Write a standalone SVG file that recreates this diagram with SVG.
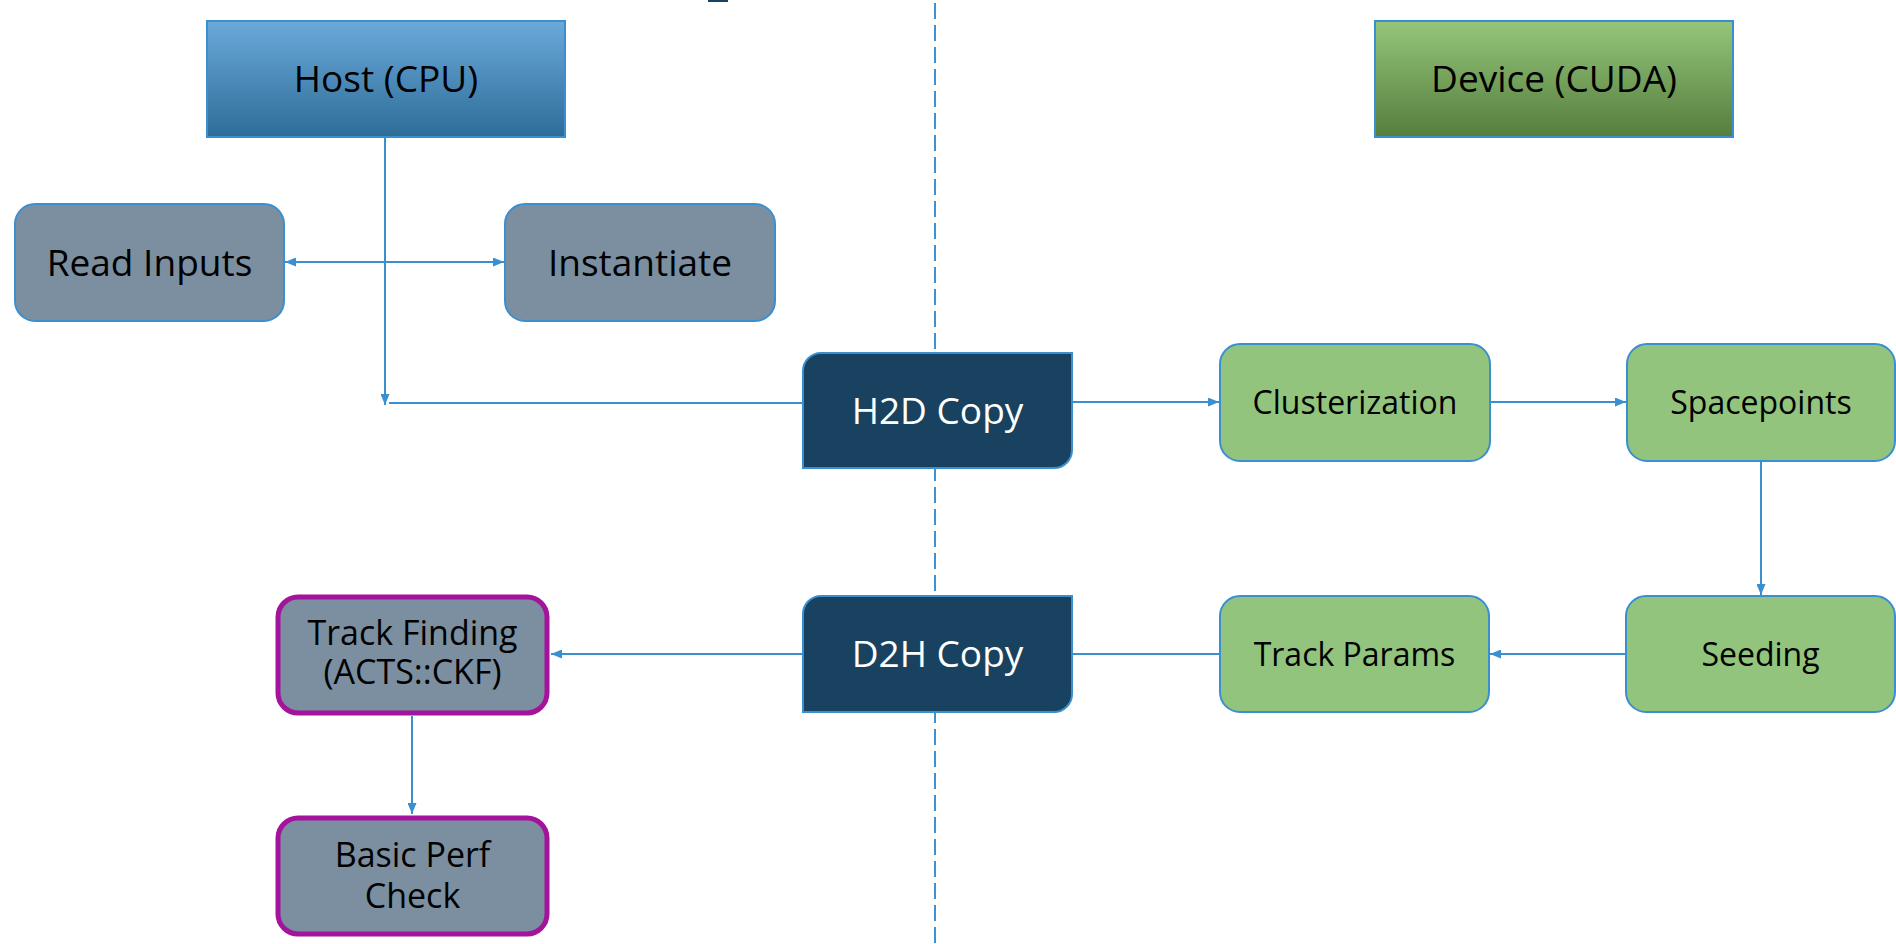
<svg xmlns="http://www.w3.org/2000/svg" width="1896" height="944" viewBox="0 0 1896 944">
<defs>
<linearGradient id="gHost" x1="0" y1="0" x2="0" y2="1">
<stop offset="0" stop-color="#6AAADA"/>
<stop offset="1" stop-color="#2E6C98"/>
</linearGradient>
<linearGradient id="gDev" x1="0" y1="0" x2="0" y2="1">
<stop offset="0" stop-color="#94C67A"/>
<stop offset="1" stop-color="#567D3D"/>
</linearGradient>
<marker id="arr" markerUnits="userSpaceOnUse" markerWidth="11" markerHeight="9" refX="11" refY="4.5" orient="auto-start-reverse">
<path d="M0,0 L11,4.5 L0,9 z" fill="#3A8FD0"/>
</marker>
<style>
.t{font-family:"Open Sans","Noto Sans","Liberation Sans",sans-serif;text-anchor:middle;fill:#000}
.w{fill:#fff}
.s37{font-size:37px}
.s32{font-size:32px}
.s34{font-size:34px}
.head{stroke:#3A8FD0;stroke-width:2}
.gray{fill:#7B8FA0;stroke:#3A8FD0;stroke-width:2}
.green{fill:#92C47D;stroke:#3A8FD0;stroke-width:2}
.navy{fill:#18425F;stroke:#3A8FD0;stroke-width:2}
.purple{fill:#7B8FA0;stroke:#A3139B;stroke-width:5}
.c{fill:none;stroke:#3A8FD0;stroke-width:2}
</style>
</defs>
<rect width="1896" height="944" fill="#fff"/>
<rect x="708" y="0" width="20" height="2" fill="#18425F"/>
<line x1="935" y1="3" x2="935" y2="944" stroke="#3A93D5" stroke-width="2" stroke-dasharray="16 6"/>

<g id="connectors">
<path class="c" d="M385,137 V405" marker-end="url(#arr)"/>
<path class="c" d="M389,403 H803"/>
<path class="c" d="M285,262 H504" marker-start="url(#arr)" marker-end="url(#arr)"/>
<path class="c" d="M1072,402 H1219" marker-end="url(#arr)"/>
<path class="c" d="M1490,402 H1626" marker-end="url(#arr)"/>
<path class="c" d="M1761,461 V595" marker-end="url(#arr)"/>
<path class="c" d="M1626,654 H1490" marker-end="url(#arr)"/>
<path class="c" d="M1220,654 H1072"/>
<path class="c" d="M803,654 H551" marker-end="url(#arr)"/>
<path class="c" d="M412,716 V814" marker-end="url(#arr)"/>
</g>

<g id="host">
<rect class="head" x="207" y="21" width="358" height="116" fill="url(#gHost)"/>
<text class="t s37" x="386" y="92">Host (CPU)</text>
</g>
<g id="device">
<rect class="head" x="1375" y="21" width="358" height="116" fill="url(#gDev)"/>
<text class="t s37" x="1554" y="92">Device (CUDA)</text>
</g>
<g id="read-inputs">
<rect class="gray" x="15" y="204" width="269" height="117" rx="20"/>
<text class="t s37" x="149.5" y="276">Read Inputs</text>
</g>
<g id="instantiate">
<rect class="gray" x="505" y="204" width="270" height="117" rx="20"/>
<text class="t s37" x="640" y="276">Instantiate</text>
</g>
<g id="h2d">
<path class="navy" d="M821,353 H1072 V450 A18,18 0 0 1 1054,468 H803 V371 A18,18 0 0 1 821,353 Z"/>
<text class="t w s37" x="937.5" y="424">H2D Copy</text>
</g>
<g id="clusterization">
<rect class="green" x="1220" y="344" width="270" height="117" rx="20"/>
<text class="t s32" x="1355" y="414">Clusterization</text>
</g>
<g id="spacepoints">
<rect class="green" x="1627" y="344" width="268" height="117" rx="20"/>
<text class="t s32" x="1761" y="414">Spacepoints</text>
</g>
<g id="seeding">
<rect class="green" x="1626" y="596" width="269" height="116" rx="20"/>
<text class="t s32" x="1760.5" y="666">Seeding</text>
</g>
<g id="track-params">
<rect class="green" x="1220" y="596" width="269" height="116" rx="20"/>
<text class="t s32" x="1354.5" y="666">Track Params</text>
</g>
<g id="d2h">
<path class="navy" d="M821,596 H1072 V694 A18,18 0 0 1 1054,712 H803 V614 A18,18 0 0 1 821,596 Z"/>
<text class="t w s37" x="937.5" y="667">D2H Copy</text>
</g>
<g id="track-finding">
<rect class="purple" x="278" y="597" width="269" height="116" rx="20"/>
<text class="t s34" x="412.5" y="645">Track Finding</text>
<text class="t s34" x="412.5" y="684">(ACTS::CKF)</text>
</g>
<g id="basic-perf">
<rect class="purple" x="278" y="818" width="269" height="116" rx="20"/>
<text class="t s34" x="412.5" y="867">Basic Perf</text>
<text class="t s34" x="412.5" y="908">Check</text>
</g>
</svg>
